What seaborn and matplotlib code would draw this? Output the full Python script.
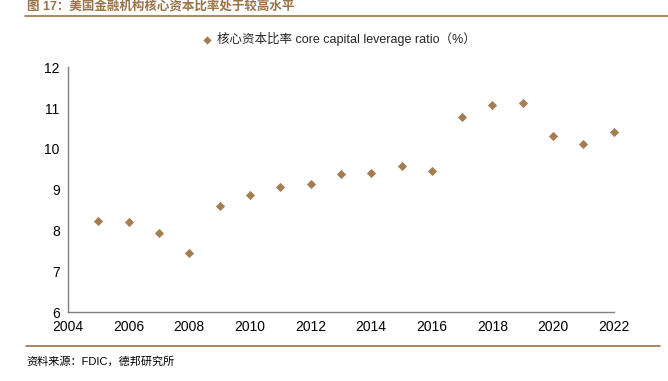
import pandas as pd
import matplotlib
matplotlib.use("Agg")
import matplotlib.pyplot as plt
import seaborn as sns

# core capital leverage ratio (%)
years = [2005, 2006, 2007, 2008, 2009, 2010, 2011, 2012, 2013,
         2014, 2015, 2016, 2017, 2018, 2019, 2020, 2021, 2022]
ratio = [8.23, 8.21, 7.94, 7.45, 8.60, 8.88, 9.07, 9.13, 9.39,
         9.42, 9.58, 9.47, 10.78, 11.07, 11.12, 10.31, 10.13, 10.42]
x_ticks = list(range(2004, 2023, 2))
y_ticks = [6, 7, 8, 9, 10, 11, 12]

series_name = "核心资本比率 core capital leverage ratio（%）"
title = "图 17：美国金融机构核心资本比率处于较高水平"
source = "资料来源：FDIC，德邦研究所"

sns.set_theme(style="white")
plt.rcParams['font.family'] = ['Liberation Sans', 'Noto Sans CJK SC', 'DejaVu Sans']

brown = "#A67C52"
dark_brown = "#9B7247"
axis_gray = "#7F7F7F"

df = pd.DataFrame({"year": years, "ratio": ratio})

fig = plt.figure(figsize=(6.68, 3.81), dpi=100)
ax = fig.add_axes([0.1018, 0.181, 0.817, 0.642])

sns.scatterplot(data=df, x="year", y="ratio", marker="D", s=22, color=brown,
                edgecolor=brown, linewidth=0, label=series_name, ax=ax, clip_on=False)

ax.set_xlim(2004, 2022)
ax.set_ylim(6, 12)
ax.set_xticks(x_ticks)
ax.set_yticks(y_ticks)
ax.set_xlabel("")
ax.set_ylabel("")
ax.tick_params(axis="both", direction="in", length=4, width=0.8, color=axis_gray,
               labelsize=10, labelcolor="black", pad=6)
for side in ["top", "right"]:
    ax.spines[side].set_visible(False)
for side in ["left", "bottom"]:
    ax.spines[side].set_color(axis_gray)
    ax.spines[side].set_linewidth(1.0)

ax.legend(loc="lower center", bbox_to_anchor=(0.49, 1.04), frameon=False,
          fontsize=9, handletextpad=-0.2, markerscale=0.9)

# title, rules and source note
fig.text(0.04, 1 - 6 / 381, title, color=dark_brown, fontsize=9, fontweight="bold",
         va="center", ha="left")
fig.add_artist(plt.Line2D([25 / 668, 1.0], [1 - 15.5 / 381] * 2, color=dark_brown, lw=1.2))
fig.add_artist(plt.Line2D([26 / 668, 660 / 668], [1 - 345.5 / 381] * 2, color=dark_brown, lw=1.2))
fig.text(26 / 668, 1 - 361 / 381, source, fontsize=8, color="black", va="center", ha="left")

fig.savefig("out.png", dpi=100)
